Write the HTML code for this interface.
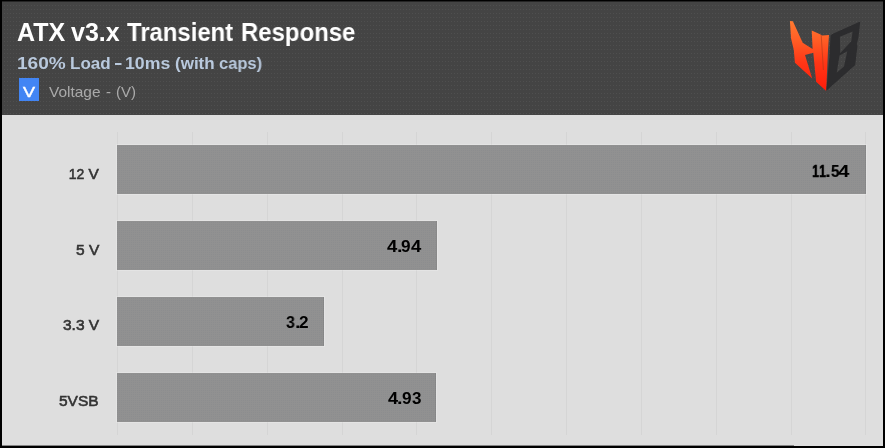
<!DOCTYPE html>
<html lang="en">
<head>
<meta charset="utf-8">
<title>ATX v3.x Transient Response</title>
<style>
  html, body { margin: 0; padding: 0; }
  body { width: 885px; height: 448px; overflow: hidden; background: #000; font-family: "Liberation Sans", sans-serif; }
  #frame { position: absolute; left: 0; top: 0; width: 885px; height: 448px; background: #000; overflow: hidden; }
  .t, .cat { will-change: transform; }
  #header { position: absolute; left: 2px; top: 1px; width: 881px; height: 113px; border-top: 1px solid #252525; background-color: #444444;
    background-image: radial-gradient(circle at 0.5px 0.5px, #4f4f4f 0.5px, rgba(79,79,79,0) 1px);
    background-size: 3px 4px; background-position: 2px 3px; }
  #plot { position: absolute; left: 2px; top: 115px; width: 881px; height: 331px; background: #dedede; }
  h1, h2 { margin: 0; padding: 0; font-size: inherit; font-weight: inherit; }
  .t { position: absolute; white-space: nowrap; line-height: 1; transform-origin: 0 0; }
  .ti { top: 20px; font-size: 25px; font-weight: bold; color: #fff; }
  .su { top: 55px; font-size: 17px; font-weight: bold; color: #b9c9dd; }
  .le { top: 84px; font-size: 15px; color: #aaaaaa; }
  #legbox { position: absolute; left: 19px; top: 78px; width: 20px; height: 23px; background: #4285f4; }
  #legv { left: 23px; top: 84px; font-size: 15px; font-weight: normal; color: #fff; -webkit-text-stroke: 0.45px #fff; transform: scaleX(1.2); }
  .grid { position: absolute; top: 132px; width: 1px; height: 303px; background: #d5d5d5; }
  .bar { position: absolute; left: 117px; height: 49px; background-color: #919191;
    background-image: conic-gradient(#8c8d8f 25%, #919191 0); background-size: 2px 2px; background-position: 1px 1px;
    box-shadow: inset -1px 0 0 rgba(0,0,0,0.05), 0 0 0 1px rgba(255,255,255,0.18); }
  .cat { position: absolute; right: 785px; font-size: 15.5px; color: #333; -webkit-text-stroke: 0.6px #333; transform-origin: 100% 50%; white-space: nowrap; line-height: 1; text-align: right; }
  .val { position: absolute; left: 0; width: 885px; height: 17px; font-size: 17px; font-weight: bold; color: #000; white-space: nowrap; line-height: 1; }
  .val span { position: absolute; top: 0; transform-origin: 0 0; will-change: transform; }
</style>
</head>
<body>
<div id="frame">
  <div id="header"></div>
  <div id="plot"></div>
  <div style="position:absolute; left:2px; top:445px; width:792px; height:1px; background:rgba(0,0,0,0.4)"></div>

  <h1 id="title"><span class="t ti" style="left:17px">ATX</span> <span class="t ti" style="left:71px">v3.x</span> <span class="t ti" style="left:127px; transform:scaleX(0.955)">Transient</span> <span class="t ti" style="left:241px; transform:scaleX(0.957)">Response</span></h1>

  <h2 id="subtitle"><span class="t su" style="left:17px; transform:scaleX(1.12)">160%</span> <span class="t su" style="left:70px">Load</span> <span class="t su" style="left:114px; top:54px; transform:scaleX(1.5)">-</span> <span class="t su" style="left:125px; transform:scaleX(1.04)">10ms</span> <span class="t su" style="left:175px">(with</span> <span class="t su" style="left:219px; transform:scaleX(0.97)">caps)</span></h2>

  <div id="legbox"></div>
  <div id="legendrow"><span class="t" id="legv">V</span> <span class="t le" style="left:49px; transform:scaleX(1.03)">Voltage</span> <span class="t le" style="left:106px">-</span> <span class="t le" style="left:116px">(V)</span></div>

  <svg id="logo" width="90" height="90" viewBox="780 10 90 90" style="position:absolute; left:780px; top:10px">
    <defs>
      <linearGradient id="hg" x1="0" y1="21" x2="0" y2="91" gradientUnits="userSpaceOnUse">
        <stop offset="0" stop-color="#ff7a30"/>
        <stop offset="0.3" stop-color="#ff5a24"/>
        <stop offset="0.6" stop-color="#ff3616"/>
        <stop offset="1" stop-color="#ff1c0a"/>
      </linearGradient>
    </defs>
    <polygon fill="url(#hg)" points="789.9,21 792.9,21.3 802.7,42.8 812.6,49 811.7,30.5 819.5,33.9 822.3,35.5 829,35 828,50 826.2,91 816.1,81.7 813.3,52.7 805,54.9 812.2,78.4 794.9,62.7 793.8,50 791,38.3"/>
    <line x1="821.2" y1="35" x2="823.4" y2="70" stroke="#a83a1c" stroke-width="0.8" opacity="0.7"/>
    <path fill="#2c2c2e" fill-rule="evenodd" d="M832.3,33.9 L860.2,21.6 L858.5,37.2 L856.8,43.9 L857.4,46.1 L855.2,65 L826.3,90.8 L829.5,56 L830.6,35.5 Z M839.9,36.8 L852.6,31.6 L851.3,41.3 L840.2,53.2 Z M839.5,55.4 L847.3,51.2 L844,66.6 L836.7,72.8 Z"/>
  </svg>

  <div class="grid" style="left:117px"></div>
  <div class="grid" style="left:192px"></div>
  <div class="grid" style="left:267px"></div>
  <div class="grid" style="left:342px"></div>
  <div class="grid" style="left:416px"></div>
  <div class="grid" style="left:491px"></div>
  <div class="grid" style="left:566px"></div>
  <div class="grid" style="left:641px"></div>
  <div class="grid" style="left:716px"></div>
  <div class="grid" style="left:791px"></div>
  <div class="grid" style="left:865px"></div>

  <div class="bar" style="top:145px; width:749px"></div>
  <div class="bar" style="top:221px; width:320px"></div>
  <div class="bar" style="top:297px; width:207px"></div>
  <div class="bar" style="top:373px; width:319px"></div>

  <div class="cat" style="top:166px; right:786px"><span style="display:inline-block; transform:translateX(0px) scaleX(0.9); transform-origin:100% 50%">12</span> V</div>
  <div class="cat" style="top:242px; right:786px">5 V</div>
  <div class="cat" style="top:317px; right:786px">3.3 V</div>
  <div class="cat" style="top:393px; right:786.5px">5VSB</div>

  <div class="val" style="top:163px"><span style="left:812.3px; transform:scaleX(0.740); -webkit-text-stroke:0.55px #000">1</span><span style="left:819.0px; transform:scaleX(0.740); -webkit-text-stroke:0.55px #000">1</span><span style="left:825.1px; transform:scaleX(1.250)">.</span><span style="left:830.8px; transform:scaleX(0.888); -webkit-text-stroke:0.2px #000">5</span><span style="left:838.4px; transform:scaleX(1.209)">4</span></div>
  <div class="val" style="top:238px"><span style="left:386.6px; transform:scaleX(1.088)">4</span><span style="left:396.5px; transform:scaleX(1.167)">.</span><span style="left:401.3px; transform:scaleX(1.012)">9</span><span style="left:410.7px; transform:scaleX(1.088)">4</span></div>
  <div class="val" style="top:314px"><span style="left:286.4px; transform:scaleX(0.940)">3</span><span style="left:294.6px; transform:scaleX(1.208)">.</span><span style="left:299.2px; transform:scaleX(1.012)">2</span></div>
  <div class="val" style="top:390px"><span style="left:387.5px; transform:scaleX(1.066)">4</span><span style="left:397.3px; transform:scaleX(1.167)">.</span><span style="left:402.1px; transform:scaleX(1.012)">9</span><span style="left:411.8px; transform:scaleX(0.964)">3</span></div>
</div>
</body>
</html>
